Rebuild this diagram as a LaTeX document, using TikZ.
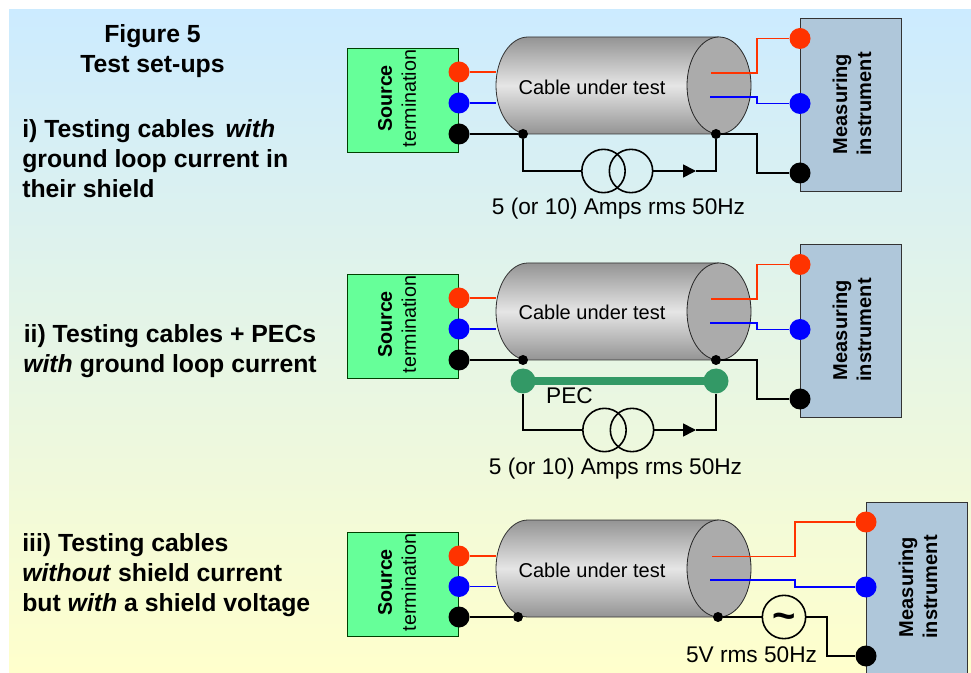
\documentclass[tikz,border=0pt]{standalone}
\usepackage{fontspec}
\setmainfont{Liberation Sans}
\usetikzlibrary{arrows.meta}

\begin{document}
\begin{tikzpicture}[>={Triangle[length=9.75pt,width=9.75pt]},x=0.75pt,y=-0.75pt]
\fontsize{15pt}{18pt}\selectfont
\definecolor{redwire}{HTML}{FF3300}
\definecolor{pecgreen}{HTML}{339966}
\tikzstyle{wire}=[line width=1.25pt,black]
\tikzstyle{arrow}=[wire,->]
\tikzstyle{redline}=[line width=1.15pt,redwire]
\tikzstyle{blueline}=[line width=1.15pt,blue]
\tikzstyle{term}=[circle,inner sep=0pt,minimum size=15.75pt]
\tikzstyle{dotnode}=[circle,fill=black,inner sep=0pt,minimum size=7.5pt]
\tikzstyle{pecnode}=[circle,fill=pecgreen,inner sep=0pt,minimum size=18.75pt]
\tikzstyle{coil}=[circle,draw,line width=1.2pt,inner sep=0pt,minimum size=32.5pt]
\tikzstyle{srcbox}=[draw=black!75!green,line width=0.7pt,fill={rgb,255:red,102;green,255;blue,153}]
\tikzstyle{insbox}=[draw=black!80,line width=0.7pt,fill={rgb,255:red,175;green,199;blue,218}]
\tikzstyle{cable}=[draw=black!80,line width=0.6pt,top color=black!42,bottom color=black!42,middle color=black!10]
\tikzstyle{capend}=[draw=black!85,line width=0.6pt,fill=black!33]
\tikzstyle{lefttext}=[font=\fontsize{18.6pt}{22.5pt}\selectfont\bfseries,inner sep=0pt]
\tikzstyle{boxtext}=[rotate=90,align=center,inner sep=0pt]
\tikzstyle{srctext}=[boxtext,font=\fontsize{14.8pt}{18pt}\selectfont]
\tikzstyle{instext}=[boxtext,font=\fontsize{15pt}{18pt}\selectfont\bfseries]
\tikzstyle{wiretext}=[font=\fontsize{17pt}{20pt}\selectfont]

	\clip (0,0) rectangle (971,673);
	\fill[white] (0,0) rectangle (971,673);
	\shade[top color={rgb,255:red,204;green,235;blue,255},bottom color={rgb,255:red,255;green,255;blue,204}] (9,10) rectangle (971,673);

	\node[lefttext,align=center] (title) at (152.5,51.5) {Figure 5\\Test set-ups};
	\node[lefttext,align=left,anchor=west] (textA) at (22,158.5) {i) Testing cables\hspace{3pt} \textit{with}\\ground loop current in\\their shield};
	\node[lefttext,align=center] (textB) at (170,351) {ii) Testing cables + PECs\\\textit{with} ground loop current};
	\node[lefttext,align=left,anchor=west] (textC) at (22,575) {iii) Testing cables\\\textit{without} shield current\\but \textit{with} a shield voltage};

	\draw[srcbox] (347,48.5) rectangle (458,152.5);
	\draw[srcbox] (347,274.5) rectangle (458,378.5);
	\draw[srcbox] (347,532) rectangle (458,636);
	\draw[insbox] (800,18.5) rectangle (901,191.5);
	\draw[insbox] (800,244.5) rectangle (901,417.5);
	\draw[insbox] (866,502) rectangle (967,675);

	\draw[cable] (719,37) -- (528,37) arc[start angle=270,end angle=90,x radius=32,y radius=48.5] -- (719,134);
	\draw[capend] (719,85.5) ellipse [x radius=32,y radius=48.5];
	\draw[cable] (719,263) -- (528,263) arc[start angle=270,end angle=90,x radius=32,y radius=48.5] -- (719,360);
	\draw[capend] (719,311.5) ellipse [x radius=32,y radius=48.5];
	\draw[cable] (719,520) -- (528,520) arc[start angle=270,end angle=90,x radius=32,y radius=48.5] -- (719,617);
	\draw[capend] (719,568.5) ellipse [x radius=32,y radius=48.5];

	\node[srctext] (srcA) at (397,98.5) {\textbf{Source}\\termination};
	\node[srctext] (srcB) at (397,324.5) {\textbf{Source}\\termination};
	\node[srctext] (srcC) at (397,582.5) {\textbf{Source}\\termination};
	\node[instext] (insA) at (852,104) {Measuring\\instrument};
	\node[instext] (insB) at (852,330) {Measuring\\instrument};
	\node[instext] (insC) at (918,587) {Measuring\\instrument};
	\node (cutA) at (592,87) {Cable under test};
	\node (cutB) at (592,312) {Cable under test};
	\node (cutC) at (592,570) {Cable under test};
	\node[wiretext] (ampsA) at (618.5,209) {5 (or 10) Amps rms 50Hz};
	\node[wiretext] (ampsB) at (615.5,468.5) {5 (or 10) Amps rms 50Hz};
	\node[wiretext] (voltC) at (751.5,655) {5V rms 50Hz};
	\node[wiretext] (pecB) at (569.5,395.5) {PEC};

	\node[term,fill=redwire] (srcR1) at (459,72) {};
	\node[term,fill=blue] (srcB1) at (459,103) {};
	\node[term,fill=black] (srcK1) at (459,134) {};
	\node[term,fill=redwire] (insR1) at (800,38.5) {};
	\node[term,fill=blue] (insB1) at (800,103.5) {};
	\node[term,fill=black] (insK1) at (800,173) {};
	\node[dotnode] (dotL1) at (523,134) {};
	\node[dotnode] (dotR1) at (716,134) {};
	\node[coil] (coilL1) at (603.5,171) {};
	\node[coil] (coilR1) at (631,171) {};
	\coordinate (cabR1) at (496,72);
	\coordinate (cabB1) at (496,103);
	\coordinate (coreR1) at (711,73);
	\coordinate (coreB1) at (710,97);
	\coordinate (bendR1) at (757,73);
	\coordinate (bendB1) at (757,97);
	\coordinate (bendK1) at (757,134);
	\coordinate (tip1) at (696,171);

	\draw[redline] (srcR1) -- (cabR1);
	\draw[blueline] (srcB1) -- (cabB1);
	\draw[wire] (srcK1) -- (dotL1);
	\draw[redline] (coreR1) -- (bendR1) |- (insR1);
	\draw[blueline] (coreB1) -- (bendB1) |- (insB1);
	\draw[wire] (dotR1) -- (bendK1) |- (insK1);
	\draw[wire] (dotL1) |- (coilL1);
	\draw[arrow] (coilR1) -- (tip1);
	\draw[wire] (tip1) -| (dotR1);

	\node[term,fill=redwire] (srcR2) at (459,298) {};
	\node[term,fill=blue] (srcB2) at (459,329) {};
	\node[term,fill=black] (srcK2) at (459,360) {};
	\node[term,fill=redwire] (insR2) at (800,264.5) {};
	\node[term,fill=blue] (insB2) at (800,329.5) {};
	\node[term,fill=black] (insK2) at (800,399) {};
	\node[dotnode] (dotL2) at (523,360) {};
	\node[dotnode] (dotR2) at (716,360) {};
	\node[pecnode] (pecL2) at (523,381) {};
	\node[pecnode] (pecR2) at (716,381) {};
	\node[coil] (coilL2) at (604.5,430) {};
	\node[coil] (coilR2) at (632,430) {};
	\coordinate (cabR2) at (496,298);
	\coordinate (cabB2) at (496,329);
	\coordinate (coreR2) at (711,299);
	\coordinate (coreB2) at (710,323);
	\coordinate (bendR2) at (757,299);
	\coordinate (bendB2) at (757,323);
	\coordinate (bendK2) at (757,360);
	\coordinate (tip2) at (696,430);

	\draw[redline] (srcR2) -- (cabR2);
	\draw[blueline] (srcB2) -- (cabB2);
	\draw[wire] (srcK2) -- (dotL2);
	\draw[redline] (coreR2) -- (bendR2) |- (insR2);
	\draw[blueline] (coreB2) -- (bendB2) |- (insB2);
	\draw[wire] (dotR2) -- (bendK2) |- (insK2);
	\draw[pecgreen,line width=5.75pt] (pecL2.center) -- (pecR2.center);
	\draw[wire] (pecL2) |- (coilL2);
	\draw[arrow] (coilR2) -- (tip2);
	\draw[wire] (tip2) -| (pecR2);

	\node[term,fill=redwire] (srcR3) at (459,556) {};
	\node[term,fill=blue] (srcB3) at (459,586.5) {};
	\node[term,fill=black] (srcK3) at (459,617) {};
	\node[term,fill=redwire] (insR3) at (866,522) {};
	\node[term,fill=blue] (insB3) at (866,587) {};
	\node[term,fill=black] (insK3) at (866,656) {};
	\node[dotnode] (dotL3) at (518,617) {};
	\node[dotnode] (dotR3) at (718,617) {};
	\node[coil,font=\fontsize{30pt}{30pt}\selectfont\bfseries] (acsrc3) at (784,617) {\raisebox{-9.5pt}[0pt][0pt]{\textasciitilde}};
	\coordinate (cabR3) at (496,556);
	\coordinate (cabB3) at (496,586.5);
	\coordinate (coreR3) at (712,556.5);
	\coordinate (coreB3) at (710,580);
	\coordinate (bendR3) at (795,556.5);
	\coordinate (bendB3) at (795,580);
	\coordinate (bendK3) at (827,617);

	\draw[redline] (srcR3) -- (cabR3);
	\draw[blueline] (srcB3) -- (cabB3);
	\draw[wire] (srcK3) -- (dotL3);
	\draw[redline] (coreR3) -- (bendR3) |- (insR3);
	\draw[blueline] (coreB3) -- (bendB3) |- (insB3);
	\draw[wire] (dotR3) -- (acsrc3);
	\draw[wire] (acsrc3) -- (bendK3) |- (insK3);
\end{tikzpicture}
\end{document}
